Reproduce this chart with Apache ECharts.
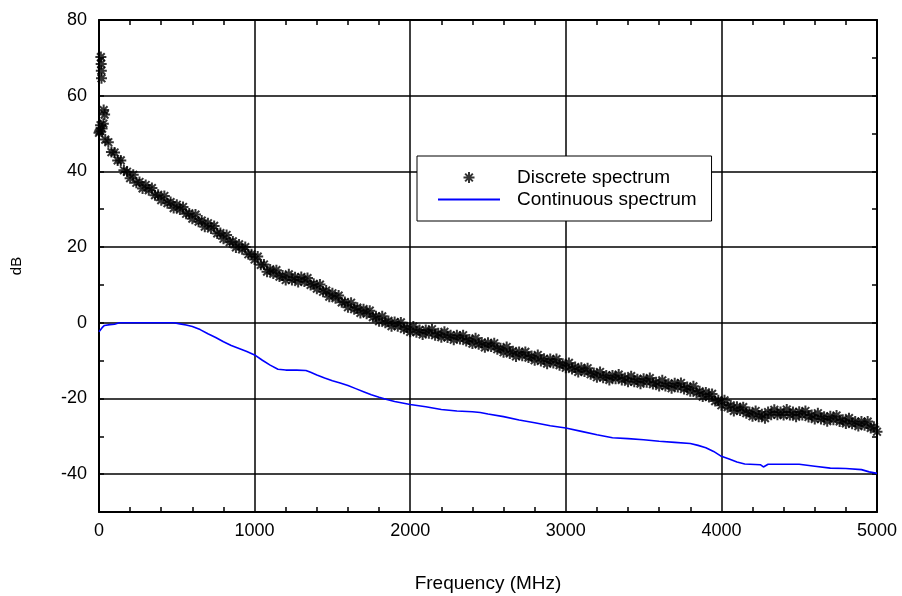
<!DOCTYPE html>
<html>
<head>
<meta charset="utf-8">
<script src="https://cdn.jsdelivr.net/npm/echarts@6/dist/echarts.min.js"></script>
<style>
  html, body { margin: 0; padding: 0; background: #fff; }
  #main { width: 902px; height: 596px; }
</style>
</head>
<body>
<div id="main"></div>
<script>
// x ticks (MHz) and y ticks (dB)
const freqTicks = [0, 1000, 2000, 3000, 4000, 5000];
const dbTicks = [-40, -20, 0, 20, 40, 60, 80];

// discrete spectrum, [MHz, dB]
const discretePoints = [
  [12, 70.2], [14, 68.4], [15, 66.6], [16, 64.6], [30, 56.2], [36, 55.0],
  [4, 50.6], [10, 52.2], [28, 52.6], [0, 50.2],
  [20, 51.3], [40, 48.4], [60, 47.7], [80, 45.1], [100, 45.0],
  [120, 42.9], [140, 42.9], [160, 40.3], [180, 39.9], [200, 38.2],
  [220, 39.1], [240, 37.0], [260, 37.2], [280, 35.5], [300, 36.4],
  [320, 35.0], [340, 35.6], [360, 33.7], [380, 33.8], [400, 32.4],
  [420, 33.5], [440, 31.6], [460, 31.9], [480, 30.3], [500, 31.2],
  [520, 29.9], [540, 30.6], [560, 28.8], [580, 28.9], [600, 27.5],
  [620, 28.6], [640, 26.7], [660, 27.0], [680, 25.4], [700, 26.3],
  [720, 24.9], [740, 25.6], [760, 23.6], [780, 23.7], [800, 22.2],
  [820, 23.2], [840, 21.3], [860, 21.5], [880, 19.9], [900, 20.7],
  [920, 19.4], [940, 20.0], [960, 18.1], [980, 18.1], [1000, 16.7],
  [1020, 17.5], [1040, 15.3], [1060, 15.4], [1080, 13.5], [1100, 14.1],
  [1120, 13.0], [1140, 13.9], [1160, 12.2], [1180, 12.5], [1200, 11.3],
  [1220, 12.8], [1240, 11.3], [1260, 12.0], [1280, 10.8], [1300, 12.1],
  [1320, 10.9], [1340, 11.8], [1360, 10.0], [1380, 10.3], [1400, 9.0],
  [1420, 10.1], [1440, 8.2], [1460, 8.5], [1480, 6.9], [1500, 7.8],
  [1520, 6.5], [1540, 7.2], [1560, 5.4], [1580, 5.5], [1600, 4.1],
  [1620, 5.3], [1640, 3.6], [1660, 4.0], [1680, 2.6], [1700, 3.6],
  [1720, 2.4], [1740, 3.2], [1760, 1.5], [1780, 1.7], [1800, 0.4],
  [1820, 1.7], [1840, 0.0], [1860, 0.5], [1880, -0.9], [1900, 0.2],
  [1920, -0.9], [1940, 0.1], [1960, -1.6], [1980, -1.2], [2000, -2.4],
  [2020, -1.0], [2040, -2.5], [2060, -1.9], [2080, -3.1], [2100, -1.9],
  [2120, -2.8], [2140, -1.7], [2160, -3.3], [2180, -2.8], [2200, -3.8],
  [2220, -2.4], [2240, -3.9], [2260, -3.3], [2280, -4.5], [2300, -3.3],
  [2320, -4.3], [2340, -3.3], [2360, -4.8], [2380, -4.4], [2400, -5.5],
  [2420, -4.1], [2440, -5.7], [2460, -5.2], [2480, -6.5], [2500, -5.3],
  [2520, -6.3], [2540, -5.4], [2560, -7.0], [2580, -6.7], [2600, -7.8],
  [2620, -6.4], [2640, -8.1], [2660, -7.5], [2680, -8.9], [2700, -7.7],
  [2720, -8.7], [2740, -7.7], [2760, -9.2], [2780, -8.8], [2800, -9.9],
  [2820, -8.5], [2840, -10.1], [2860, -9.5], [2880, -10.8], [2900, -9.6],
  [2920, -10.6], [2940, -9.6], [2960, -11.2], [2980, -10.8], [3000, -11.9],
  [3020, -10.6], [3040, -12.2], [3060, -11.7], [3080, -13.0], [3100, -11.9],
  [3120, -12.9], [3140, -12.0], [3160, -13.6], [3180, -13.3], [3200, -14.4],
  [3220, -13.0], [3240, -14.5], [3260, -13.9], [3280, -15.1], [3300, -13.9],
  [3320, -14.8], [3340, -13.7], [3360, -15.1], [3380, -14.6], [3400, -15.6],
  [3420, -14.1], [3440, -15.6], [3460, -14.9], [3480, -16.1], [3500, -14.8],
  [3520, -15.7], [3540, -14.6], [3560, -16.2], [3580, -15.7], [3600, -16.7],
  [3620, -15.2], [3640, -16.7], [3660, -16.1], [3680, -17.3], [3700, -16.0],
  [3720, -17.0], [3740, -15.9], [3760, -17.5], [3780, -17.0], [3800, -18.1],
  [3820, -16.8], [3840, -18.5], [3860, -18.1], [3880, -19.5], [3900, -18.4],
  [3920, -19.6], [3940, -18.8], [3960, -20.7], [3980, -20.5], [4000, -21.8],
  [4020, -20.5], [4040, -22.3], [4060, -21.8], [4080, -23.3], [4100, -22.2],
  [4120, -23.2], [4140, -22.3], [4160, -23.9], [4180, -23.6], [4200, -24.7],
  [4220, -23.3], [4240, -24.8], [4260, -24.2], [4280, -25.2], [4300, -23.6],
  [4320, -24.3], [4340, -23.0], [4360, -24.3], [4380, -23.6], [4400, -24.4],
  [4420, -22.9], [4440, -24.4], [4460, -23.6], [4480, -24.8], [4500, -23.5],
  [4520, -24.4], [4540, -23.3], [4560, -24.9], [4580, -24.4], [4600, -25.4],
  [4620, -23.9], [4640, -25.4], [4660, -24.8], [4680, -26.0], [4700, -24.7],
  [4720, -25.6], [4740, -24.5], [4760, -26.1], [4780, -25.6], [4800, -26.6],
  [4820, -25.2], [4840, -26.7], [4860, -26.1], [4880, -27.3], [4900, -26.1],
  [4920, -27.1], [4940, -26.1], [4960, -27.8], [4980, -27.5], [5000, -28.8]
];

// continuous spectrum, [MHz, dB]
const continuousPoints = [
  [0, -2.4], [10, -2.1], [20, -1.3], [35, -0.7], [70, -0.5], [100, -0.4],
  [130, 0], [200, 0], [300, 0], [400, 0], [480, 0], [520, -0.3],
  [560, -0.6], [600, -1.0], [650, -1.8], [700, -2.9], [750, -3.9],
  [800, -5.0], [850, -6.0], [900, -6.8], [950, -7.6], [1000, -8.5],
  [1050, -9.9], [1100, -11.2], [1150, -12.3], [1200, -12.5], [1270, -12.5],
  [1330, -12.6], [1360, -13.1], [1400, -13.8], [1450, -14.6], [1500, -15.3],
  [1550, -15.9], [1600, -16.6], [1650, -17.4], [1700, -18.2], [1750, -19.0],
  [1800, -19.7], [1850, -20.3], [1900, -20.8], [1950, -21.2], [2000, -21.6],
  [2100, -22.2], [2200, -22.9], [2300, -23.3], [2400, -23.5], [2450, -23.7],
  [2500, -24.1], [2600, -24.8], [2700, -25.7], [2800, -26.4], [2900, -27.2],
  [3000, -27.8], [3100, -28.7], [3200, -29.6], [3300, -30.4], [3400, -30.6],
  [3500, -30.9], [3600, -31.3], [3700, -31.6], [3800, -31.9], [3850, -32.4],
  [3900, -33.0], [3950, -34.0], [4000, -35.3], [4050, -36.0], [4100, -36.8],
  [4150, -37.3], [4250, -37.5], [4270, -38.1], [4300, -37.4], [4400, -37.4],
  [4500, -37.4], [4600, -37.9], [4700, -38.4], [4800, -38.5], [4900, -38.8],
  [4950, -39.4], [5000, -39.8]
];

const font = 'Liberation Sans, Arial, sans-serif';
const starPath = 'path://M0 5L10 5M5 0L5 10M1.5 1.5L8.5 8.5M8.5 1.5L1.5 8.5';
const black = { color: '#000', width: 1.5 };

const myChart = echarts.init(document.getElementById('main'));
myChart.setOption({
  animation: false,
  backgroundColor: '#fff',
  textStyle: { fontFamily: font, color: '#000' },
  grid: {
    left: 99,
    right: 25,
    top: 20,
    bottom: 84,
    containLabel: false,
    outerBoundsMode: 'none',
  },
  legend: {
    orient: 'vertical',
    left: 417,
    top: 156,
    padding: [11, 15, 11, 20],
    itemGap: 1,
    itemWidth: 62,
    itemHeight: 11,
    borderColor: '#000',
    borderWidth: 1,
    borderRadius: 0,
    backgroundColor: '#fff',
    selectedMode: false,
    textStyle: {
      fontFamily: font,
      fontSize: 19,
      color: '#000',
      lineHeight: 21,
      padding: [0, 0, 0, 12],
    },
    data: [
      'Discrete spectrum',
      // hide the dot that a line series puts in its legend icon
      { name: 'Continuous spectrum', itemStyle: { color: 'rgba(0,0,0,0)', borderWidth: 0 } },
    ],
  },
  xAxis: [
    {
      type: 'value',
      position: 'bottom',
      min: freqTicks[0],
      max: freqTicks[freqTicks.length - 1],
      interval: 1000,
      axisLine: { onZero: false, lineStyle: { color: '#000', width: 2 } },
      axisTick: { show: false, inside: true },
      minorTick: { show: true, splitNumber: 5, length: 5, lineStyle: black },
      axisLabel: {
        margin: 10,
        fontSize: 18,
        color: '#000',
        fontFamily: font,
        formatter: (v) => String(v),
      },
      splitLine: { show: true, lineStyle: black },
      name: 'Frequency (MHz)',
      nameLocation: 'middle',
      nameGap: 62,
      nameTextStyle: { fontSize: 19, color: '#000', fontFamily: font },
    },
    {
      type: 'value',
      position: 'top',
      min: freqTicks[0],
      max: freqTicks[freqTicks.length - 1],
      interval: 1000,
      axisLine: { onZero: false, lineStyle: { color: '#000', width: 2 } },
      axisTick: { show: false, inside: true },
      minorTick: { show: true, splitNumber: 5, length: 5, lineStyle: black },
      axisLabel: { show: false },
      splitLine: { show: false },
    },
  ],
  yAxis: [
    {
      type: 'value',
      position: 'left',
      min: -50,
      max: dbTicks[dbTicks.length - 1],
      splitNumber: 6,
      minInterval: 20,
      maxInterval: 20,
      axisLine: { show: true, onZero: false, lineStyle: { color: '#000', width: 2 } },
      axisTick: { show: false },
      axisLabel: { showMinLabel: false, margin: 12, fontSize: 18, color: '#000', fontFamily: font },
      splitLine: { show: true, lineStyle: black },
      name: 'dB',
      nameLocation: 'middle',
      nameGap: 75,
      nameTextStyle: { fontSize: 15, color: '#000', fontFamily: font },
    },
    {
      // minor ticks every 10 dB, left side
      type: 'value',
      position: 'left',
      min: -50,
      max: 80,
      interval: 10,
      axisLine: { show: false, onZero: false },
      axisTick: { show: true, inside: true, length: 5, lineStyle: black },
      axisLabel: { show: false },
      splitLine: { show: false },
    },
    {
      // right frame with its ticks
      type: 'value',
      position: 'right',
      min: -50,
      max: 80,
      interval: 10,
      axisLine: { show: true, onZero: false, lineStyle: { color: '#000', width: 2 } },
      axisTick: { show: true, inside: true, length: 5, lineStyle: black },
      axisLabel: { show: false },
      splitLine: { show: false },
    },
  ],
  series: [
    {
      name: 'Discrete spectrum',
      type: 'scatter',
      xAxisIndex: 0,
      yAxisIndex: 0,
      data: discretePoints,
      symbol: starPath,
      symbolSize: 11,
      symbolKeepAspect: true,
      itemStyle: { color: 'rgba(0,0,0,0)', borderColor: '#000', borderWidth: 2 },
      emphasis: { disabled: true },
      z: 3,
    },
    {
      name: 'Continuous spectrum',
      type: 'line',
      xAxisIndex: 0,
      yAxisIndex: 0,
      data: continuousPoints,
      symbol: 'none',
      itemStyle: { color: '#0000ff' },
      lineStyle: { color: '#0000ff', width: 1.6 },
      emphasis: { disabled: true },
      z: 2,
    },
  ],
});
</script>
</body>
</html>
